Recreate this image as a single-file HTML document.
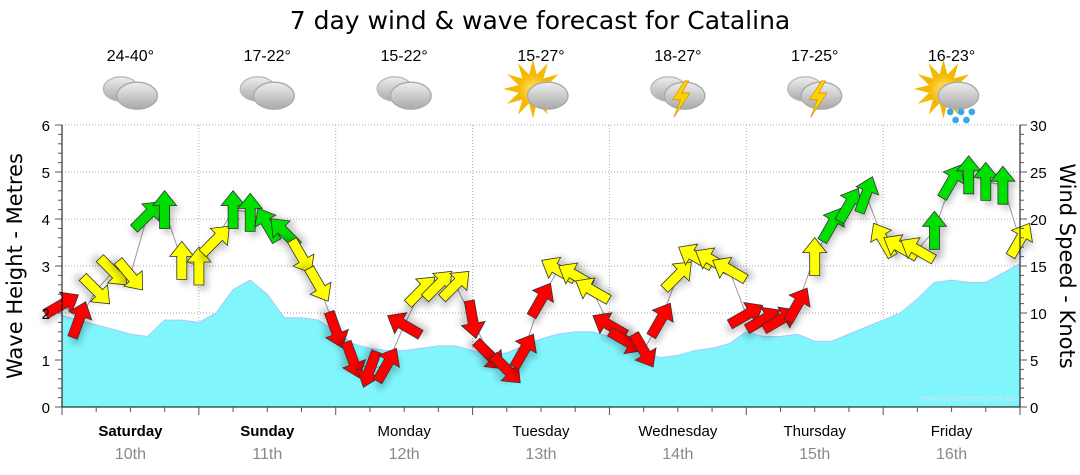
<!DOCTYPE html>
<html><head><meta charset="utf-8">
<style>
body{margin:0;background:#fff;}
svg{display:block;font-family:"Liberation Sans","DejaVu Sans",sans-serif;}
</style></head>
<body>
<svg id="chart" width="1080" height="475" viewBox="0 0 1080 475">
<defs>
<filter id="sh" x="-50%" y="-50%" width="200%" height="200%"><feGaussianBlur stdDeviation="3.5"/></filter>
<linearGradient id="cg" x1="0" y1="0" x2="0" y2="1"><stop offset="0" stop-color="#eeeeee"/><stop offset="1" stop-color="#a9a9a9"/></linearGradient>
<radialGradient id="sg"><stop offset="0" stop-color="#ffe36a"/><stop offset="1" stop-color="#f5b800"/></radialGradient>
</defs>
<text x="540" y="29" font-size="25" text-anchor="middle" fill="#000" style="font-family:'DejaVu Sans',sans-serif">7 day wind &amp; wave forecast for Catalina</text>
<g id="grid"></g>
<g id="waves"></g>
<g id="arrows"></g>
<g id="axes"></g>
<g id="topg"></g>
<text x="1016" y="401" font-size="9" text-anchor="end" fill="#c8e8ee">www.seabreeze.com.au</text>
<text transform="translate(22,266) rotate(-90)" font-size="21" text-anchor="middle" style="font-family:'DejaVu Sans',sans-serif">Wave Height - Metres</text>
<text transform="translate(1060,266) rotate(90)" font-size="21" text-anchor="middle" style="font-family:'DejaVu Sans',sans-serif">Wind Speed - Knots</text>
</svg>
<script>
const days=["Saturday","Sunday","Monday","Tuesday","Wednesday","Thursday","Friday"];
const dates=["10th","11th","12th","13th","14th","15th","16th"];
const temps=["24-40°","17-22°","15-22°","15-27°","18-27°","17-25°","16-23°"];
const icons=["cloud","cloud","cloud","suncloud","storm","storm","sunrain"];
const waveTicks=[0,1,2,3,4,5,6];
const windTicks=[0,5,10,15,20,25,30];
const waves=[1.95,1.85,1.75,1.65,1.55,1.5,1.85,1.85,1.8,2.0,2.5,2.7,2.4,1.9,1.9,1.85,1.6,1.35,1.25,1.2,1.2,1.25,1.3,1.3,1.2,1.1,1.15,1.3,1.45,1.55,1.6,1.6,1.5,1.3,1.15,1.05,1.1,1.2,1.25,1.35,1.6,1.5,1.5,1.55,1.4,1.4,1.55,1.7,1.85,2.0,2.3,2.65,2.7,2.65,2.65,2.85,3.05];
const windKn=[10.9,9.3,12.4,14.4,14,20.4,21,15.6,15,17.8,21,20.7,19.4,18.6,16,13,8.2,5,4,4.5,8.7,12.4,13,13,9.3,5.5,4,6,11.4,14.6,14,12.4,8.7,7,6,9.3,14,16,15.6,14.6,9.8,9.3,9.3,10.9,16,19.4,21.5,22.6,17.8,17,16.7,18.8,24,24.7,24,23.6,17.8];
const windDir=[60,20,135,135,140,45,0,0,0,45,0,0,330,315,150,150,160,160,200,30,300,45,45,45,170,135,135,30,30,300,300,300,300,120,150,30,45,300,300,300,60,60,60,30,0,30,30,20,330,300,300,0,30,0,0,0,30];

(function(){
const NS="http://www.w3.org/2000/svg";
const X0=62,X1=1020,Y0=407,YT=125;
const xOf=i=>X0+i*(X1-X0)/(waves.length-1);
const yW=m=>Y0-(m/6)*(Y0-YT);
const yK=k=>Y0-(k/30)*(Y0-YT);
const dayW=(X1-X0)/7;
function mk(tag,attrs,parent){const e=document.createElementNS(NS,tag);for(const k in attrs)e.setAttribute(k,attrs[k]);parent.appendChild(e);return e;}
const grid=document.getElementById('grid'),wv=document.getElementById('waves'),ar=document.getElementById('arrows'),ax=document.getElementById('axes'),topG=document.getElementById('topg');

waveTicks.forEach(t=>{if(t>0){const l=mk('line',{x1:X0,x2:X1,y1:yW(t),y2:yW(t),stroke:'#aaa','stroke-dasharray':'1,2'},grid);

}});
for(let d=1;d<7;d++){const x=X0+d*dayW;const l=mk('line',{x1:x,x2:x,y1:YT,y2:Y0,stroke:'#aaa','stroke-dasharray':'1,2'},grid);

}

let d='M'+X0+','+Y0;waves.forEach((m,i)=>{d+=' L'+xOf(i).toFixed(1)+','+yW(m).toFixed(1);});d+=' L'+X1+','+Y0+' Z';
const wa=mk('path',{d:d,fill:'#80f6fc',stroke:'#a8c8ff','stroke-width':1},wv);



let ld='';windKn.forEach((k,i)=>{ld+=(i?' L':'M')+xOf(i).toFixed(1)+','+yK(k).toFixed(1);});
const wl=mk('path',{d:ld,fill:'none',stroke:'#999','stroke-width':1},ar);


const AP="0,-19 12,-4 5,-4 5,19 -5,19 -5,-4 -12,-4";
windKn.forEach((k,i)=>{
  const c=k<12?'#ff0000':(k<18?'#ffff00':'#00e000');
  const g=mk('g',{transform:`translate(${xOf(i).toFixed(1)},${yK(k).toFixed(1)}) rotate(${windDir[i]})`},ar);
  
  
  mk('polygon',{points:AP,fill:'#000',opacity:0.22,filter:'url(#sh)',transform:'translate(4,5)'},g);
  mk('polygon',{points:AP,fill:c,stroke:'#333','stroke-width':0.8},g);
});

const la=mk('line',{x1:X0,x2:X0,y1:YT,y2:Y0,stroke:'#000'},ax);


const ra=mk('line',{x1:X1,x2:X1,y1:YT,y2:Y0,stroke:'#000'},ax);


const ba=mk('line',{x1:X0,x2:X1,y1:Y0,y2:Y0,stroke:'#000'},ax);


for(let m=0;m<=30;m++){const y=Y0-m*(Y0-YT)/30;mk('line',{x1:X0-(m%5?4:7),x2:X0,y1:y,y2:y,stroke:'#555'},ax);mk('line',{x1:X1,x2:X1+(m%5?4:7),y1:y,y2:y,stroke:'#555'},ax);}
waveTicks.forEach(t=>{const e=mk('text',{x:X0-12,y:yW(t)+6,'font-size':15,'text-anchor':'end'},ax);e.textContent=t;

});
windTicks.forEach(t=>{const e=mk('text',{x:X1+10,y:yK(t)+6,'font-size':15},ax);e.textContent=t;

});
for(let i=0;i<=56;i+=2){const x=X0+i*(X1-X0)/56;mk('line',{x1:x,x2:x,y1:Y0,y2:Y0+(i%8?5:8),stroke:'#555'},ax);}
days.forEach((dn,i)=>{const cx=X0+(i+0.5)*dayW;
  const t=mk('text',{x:cx,y:436,'font-size':15,'text-anchor':'middle','font-weight':i<2?'bold':'normal'},ax);t.textContent=dn;
  
  
  const t2=mk('text',{x:cx,y:459,'font-size':16,'text-anchor':'middle',fill:'#888'},ax);t2.textContent=dates[i];
  
  
  const t3=mk('text',{x:cx,y:61,'font-size':16,'text-anchor':'middle'},topG);t3.textContent=temps[i];
  
  
  const g=mk('g',{transform:`translate(${cx},93) scale(1.35)`},topG);
  
  
  const ic=icons[i];
  if(ic==='suncloud'||ic==='sunrain'){for(let a=0;a<360;a+=30)mk('polygon',{points:'-3,-10 3,-10 0,-22',fill:'#f5b800',transform:`translate(-6,-3) rotate(${a})`},g);mk('circle',{cx:-6,cy:-3,r:11,fill:'url(#sg)'},g);}
  if(ic==='cloud'||ic==='storm'){mk('ellipse',{cx:-7,cy:-3,rx:13,ry:9,fill:'url(#cg)',stroke:'#bbb'},g);}
  mk('ellipse',{cx:5,cy:2,rx:15,ry:10,fill:'url(#cg)',stroke:'#aaa'},g);
  if(ic==='storm'){mk('polygon',{points:'5,-9 -4,5 2,5 -3,18 9,0 3,0 8,-9',fill:'#ffd000',stroke:'#d09000','stroke-width':0.5},g);}
  if(ic==='sunrain'){[[-1,14],[7,14],[15,14],[3,20],[11,20]].forEach(p=>mk('circle',{cx:p[0],cy:p[1],r:2.5,fill:'#3aa8e8'},g));}
});
})();
</script>
</body></html>
